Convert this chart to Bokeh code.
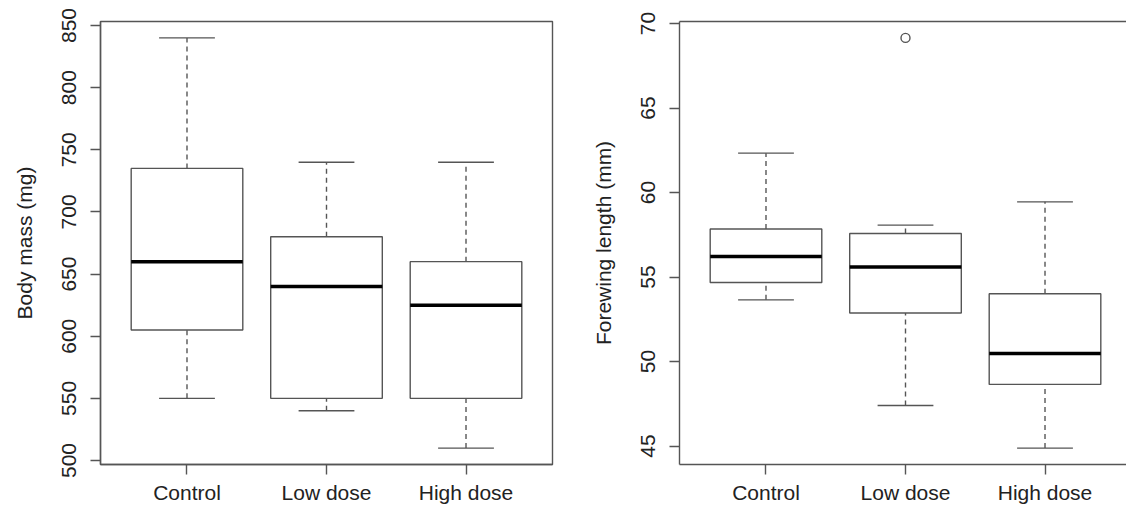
from bokeh.plotting import figure
from bokeh.layouts import row
from bokeh.models import FixedTicker, LinearAxis, Range1d
from bokeh.embed import file_html
from bokeh.resources import INLINE

# ---- data ----
groups = ["Control", "Low dose", "High dose"]
group_pos = [1, 2, 3]

mass_low = [550, 540, 510]
mass_q1 = [605, 550, 550]
mass_med = [660, 640, 625]
mass_q3 = [735, 680, 660]
mass_high = [840, 740, 740]
mass_ticks = [500, 550, 600, 650, 700, 750, 800, 850]

wing_low = [53.65, 47.4, 44.88]
wing_q1 = [54.68, 52.87, 48.65]
wing_med = [56.22, 55.59, 50.48]
wing_q3 = [57.84, 57.58, 54.01]
wing_high = [62.33, 58.07, 59.45]
wing_out_pos = [2]
wing_out_val = [69.15]
wing_ticks = [45, 50, 55, 60, 65, 70]

FONT = "Liberation Sans"
LINE = "#555555"
TEXT = "#222222"
FS = "21px"
BOXW = 0.8
CAPW = 0.4
H = 506


def ylim(vals):
    lo, hi = min(vals), max(vals)
    pad = (hi - lo) * 0.04
    return lo - pad, hi + pad


def make_fig(width, border_left, border_right, x_end, yr, yticks, ylabel, outline):
    p = figure(width=width, height=H, output_backend="svg", toolbar_location=None,
               x_range=Range1d(0.38, x_end), y_range=Range1d(*yr),
               min_border_left=border_left, min_border_right=border_right,
               min_border_top=21, min_border_bottom=42)
    p.grid.visible = False
    p.background_fill_color = "white"
    p.border_fill_color = "white"

    xax = p.below[0]
    yax = p.left[0]
    for ax in (xax, yax):
        ax.axis_line_color = LINE
        ax.axis_line_width = 1.4
        ax.major_tick_line_color = LINE
        ax.major_tick_line_width = 1.4
        ax.major_tick_out = 10
        ax.major_tick_in = 0
        ax.minor_tick_line_color = None
        ax.major_label_text_font = FONT
        ax.major_label_text_font_size = FS
        ax.major_label_text_color = TEXT
        ax.axis_label_text_font = FONT
        ax.axis_label_text_font_size = FS
        ax.axis_label_text_font_style = "normal"
        ax.axis_label_text_color = TEXT

    xax.ticker = FixedTicker(ticks=group_pos)
    xax.major_label_overrides = {g: n for g, n in zip(group_pos, groups)}
    xax.major_label_standoff = 6

    yax.ticker = FixedTicker(ticks=yticks)
    yax.major_label_orientation = "vertical"
    yax.major_label_standoff = 14
    yax.axis_label = ylabel
    yax.axis_label_standoff = 24

    if outline:
        p.outline_line_color = LINE
        p.outline_line_width = 1.4
        p.outline_line_alpha = 1.0
    else:
        p.outline_line_color = None
        top = LinearAxis(ticker=FixedTicker(ticks=[]), major_label_text_font_size="0px",
                         axis_line_color=LINE, axis_line_width=1.4,
                         major_tick_out=0, major_tick_in=0, minor_tick_out=0, minor_tick_in=0,
                         major_label_standoff=0)
        p.add_layout(top, "above")
    return p


def draw_boxes(p, low, q1, med, q3, high):
    left = [x - BOXW / 2 for x in group_pos]
    right = [x + BOXW / 2 for x in group_pos]
    cl = [x - CAPW / 2 for x in group_pos]
    cr = [x + CAPW / 2 for x in group_pos]
    # whiskers
    p.segment(group_pos, q3, group_pos, high, line_color=LINE, line_width=1.4, line_dash="5 4")
    p.segment(group_pos, low, group_pos, q1, line_color=LINE, line_width=1.4, line_dash="5 4")
    # caps
    p.segment(cl, high, cr, high, line_color=LINE, line_width=1.4)
    p.segment(cl, low, cr, low, line_color=LINE, line_width=1.4)
    # boxes
    p.quad(left=left, right=right, bottom=q1, top=q3, fill_color="white",
           line_color=LINE, line_width=1.4)
    # medians
    p.segment(left, med, right, med, line_color="black", line_width=3.5)


mass_range = ylim(mass_low + mass_high)
wing_range = ylim(wing_low + wing_high + wing_out_val)

W1, W2 = 580, 546
BL1, BR1 = 100, 28
BL2, BR2 = 99, 0
px_per_unit = (W1 - BL1 - BR1) / (3.62 - 0.38)
x_end2 = 0.38 + (W2 - BL2 - BR2) / px_per_unit

p1 = make_fig(W1, BL1, BR1, 3.62, mass_range, mass_ticks, "Body mass (mg)", True)
draw_boxes(p1, mass_low, mass_q1, mass_med, mass_q3, mass_high)

p2 = make_fig(W2, BL2, BR2, x_end2, wing_range, wing_ticks, "Forewing length (mm)", False)
draw_boxes(p2, wing_low, wing_q1, wing_med, wing_q3, wing_high)
p2.scatter(wing_out_pos, wing_out_val, marker="circle", size=9, fill_color=None,
           line_color=LINE, line_width=1.4)

layout = row(p1, p2)
open("out.html", "w").write(file_html(layout, INLINE))
